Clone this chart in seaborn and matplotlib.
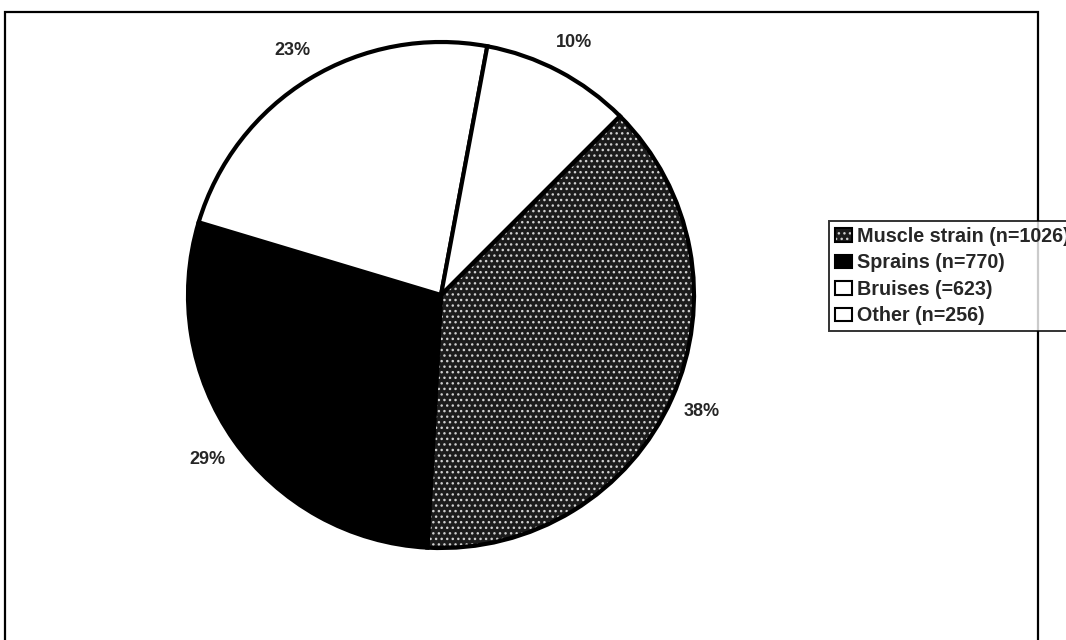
import matplotlib
matplotlib.use("Agg")
import matplotlib.pyplot as plt
import matplotlib.patches as mpatches
import matplotlib.colors as mcolors
import numpy as np
import seaborn as sns

# ---- data ----
categories = ["Muscle strain (n=1026)", "Sprains (n=770)", "Bruises (=623)", "Other (n=256)"]
counts = [1026, 770, 623, 256]
pct_labels = ["38%", "29%", "23%", "10%"]

# ---- style ----
sns.set_theme(style="white")
plt.rcParams["font.family"] = ["Liberation Sans", "DejaVu Sans"]
face_colors = ["#1c1c1c", "#000000", "#ffffff", "#ffffff"]
label_dist = 1.13

W, H = 1066, 640
fig = plt.figure(figsize=(W / 100, H / 100), dpi=100)
fig.patch.set_facecolor("white")

# outer frame (chart area border, bottom edge beyond the image)
frame = mpatches.Rectangle((5 / W, -0.02), (1038 - 5) / W, 1 - 12 / H + 0.02,
                           transform=fig.transFigure, fill=False,
                           edgecolor="black", linewidth=1.6)
fig.add_artist(frame)

ax = fig.add_axes([188 / W, 92 / H, 506 / W, 506 / H])
wedges, _ = ax.pie(counts, colors=face_colors, startangle=45, counterclock=False,
                   wedgeprops=dict(edgecolor="black", linewidth=3))
ax.set_xlim(-1, 1)
ax.set_ylim(-1, 1)
ax.set_aspect("equal")
ax.axis("off")

# speckled texture for muscle strain
wedges[0].set_hatch("...")
wedges[0]._hatch_color = mcolors.to_rgba("#d0d0d0")

# percentage labels
for w, lab in zip(wedges, pct_labels):
    ang = np.deg2rad((w.theta1 + w.theta2) / 2)
    ax.text(label_dist * np.cos(ang), label_dist * np.sin(ang), lab,
            ha="center", va="center", fontsize=13, fontweight="bold",
            clip_on=False)

# legend (the original chart's legend runs past the right edge of the image)
leg = fig.legend(wedges, categories, loc="upper left",
                 bbox_to_anchor=(829 / W, 1 - 221 / H),
                 frameon=True, fancybox=False, edgecolor="black",
                 prop=dict(size=14.2, weight="bold"),
                 handlelength=0.85, handleheight=0.7, handletextpad=0.25,
                 labelspacing=0.38, borderpad=0.3, borderaxespad=0)
leg.get_frame().set_linewidth(1.4)
for h in leg.legend_handles:
    h.set_linewidth(1.5)

fig.savefig("out.png", dpi=100, facecolor="white")
